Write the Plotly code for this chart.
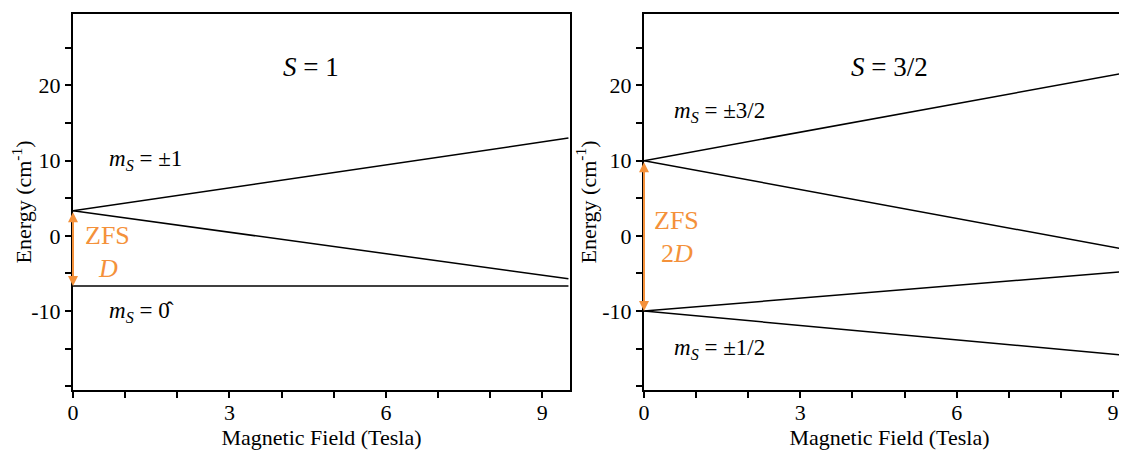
import plotly.graph_objects as go
from plotly.subplots import make_subplots

# ---- data ----
field = [0, 9.5]                      # Tesla
# S = 1 panel
s1_ms_pm1_up = [3.33, 13.0]
s1_ms_pm1_dn = [3.33, -5.7]
s1_ms_0 = [-6.67, -6.67]
# S = 3/2 panel
s32_a = [10.0, 22.0]
s32_b = [10.0, -2.15]
s32_c = [-10.0, -4.6]
s32_d = [-10.0, -16.05]

x_tickvals = [0, 3, 6, 9]
y_tickvals = [-10, 0, 10, 20]
y_ticktext = ["-10", "0", "10", "20"]

ORANGE = "#F4913A"
FONT = "Liberation Serif, DejaVu Serif, serif"

fig = make_subplots(rows=1, cols=2, horizontal_spacing=0.07)

for y in [s1_ms_pm1_up, s1_ms_pm1_dn, s1_ms_0]:
    fig.add_trace(go.Scatter(x=field, y=y, mode="lines",
                             line=dict(color="black", width=1.5),
                             showlegend=False, hoverinfo="skip"), row=1, col=1)
for y in [s32_a, s32_b, s32_c, s32_d]:
    fig.add_trace(go.Scatter(x=field, y=y, mode="lines",
                             line=dict(color="black", width=1.5),
                             showlegend=False, hoverinfo="skip"), row=1, col=2)

axis_common = dict(showline=True, linecolor="black", linewidth=2,
                   ticks="outside", ticklen=6, tickwidth=1.5, tickcolor="black",
                   showgrid=False, zeroline=False,
                   tickfont=dict(family=FONT, size=22, color="black"))

# page body has an 8px offset, compensate
L, T = 65, 6
PW = 1127 - L
xdom1 = [0, (562 - L) / PW]
xdom2 = [(636 - L) / PW, 1]

xminor = dict(dtick=1, ticks="outside", ticklen=6, tickwidth=1.5, tickcolor="black")
yminor = dict(dtick=5, ticks="outside", ticklen=6, tickwidth=1.5, tickcolor="black")
xtitle = dict(text="Magnetic Field (Tesla)", font=dict(family=FONT, size=22, color="black"), standoff=5)
ytitle1 = dict(text="Energy (cm<sup>-1</sup>)", font=dict(family=FONT, size=22, color="black"), standoff=6)
ytitle2 = dict(text="Energy (cm<sup>-1</sup>)", font=dict(family=FONT, size=22, color="black"), standoff=0)

fig.update_xaxes(**axis_common, range=[0, 9.53], tickvals=x_tickvals, minor=xminor,
                 title=xtitle, ticklabelstandoff=-4,
                 mirror=True, domain=xdom1, row=1, col=1)
fig.update_xaxes(**axis_common, range=[0, 9.42], tickvals=x_tickvals, minor=xminor,
                 title=xtitle, ticklabelstandoff=-4,
                 mirror=True, domain=xdom2, row=1, col=2)
fig.update_yaxes(**axis_common, range=[-20.5, 29.5], tickvals=y_tickvals, ticktext=y_ticktext,
                 minor=yminor, title=ytitle1, mirror=True, row=1, col=1)
fig.update_yaxes(**axis_common, range=[-20.5, 29.5], tickvals=y_tickvals, ticktext=y_ticktext,
                 minor=yminor, title=ytitle2, mirror=False, row=1, col=2)

def txt(xref, yref, x, y, text, size, color="black", xanchor="center"):
    fig.add_annotation(xref=xref, yref=yref, x=x, y=y, text=text, showarrow=False,
                       xanchor=xanchor, yanchor="middle",
                       font=dict(family=FONT, size=size, color=color))

txt("x", "y", 4.57, 22.4, "<i>S</i> = 1", 27)
txt("x", "y", 0.65, 10.1, "<i>m<sub>S</sub></i> = ±1", 23, xanchor="left")
txt("x", "y", 0.65, -10.1, "<i>m<sub>S</sub></i> = 0\u0302", 23, xanchor="left")
txt("x", "y", 0.67, 0.0, "ZFS", 26, ORANGE)
txt("x", "y", 0.67, -4.4, "<i>D</i>", 26, ORANGE)

txt("x2", "y2", 4.71, 22.4, "<i>S</i> = 3/2", 27)
txt("x2", "y2", 0.54, 16.5, "<i>m<sub>S</sub></i> = ±3/2", 23, xanchor="left")
txt("x2", "y2", 0.54, -15.1, "<i>m<sub>S</sub></i> = ±1/2", 23, xanchor="left")
txt("x2", "y2", 0.63, 2.0, "ZFS", 26, ORANGE)
txt("x2", "y2", 0.63, -2.4, "2<i>D</i>", 26, ORANGE)

# double-headed ZFS arrows
for xr, yr, top, bot in [("x", "y", s1_ms_pm1_up[0], s1_ms_0[0]), ("x2", "y2", s32_a[0], s32_c[0])]:
    fig.add_annotation(xref=xr, yref=yr, axref=xr, ayref=yr, x=0, y=bot, ax=0, ay=top,
                       text="", showarrow=True, arrowhead=2, startarrowhead=2,
                       arrowside="end+start", arrowsize=1, arrowwidth=2,
                       arrowcolor=ORANGE, standoff=0, startstandoff=0)

fig.update_layout(width=1127, height=453, paper_bgcolor="white", plot_bgcolor="white",
                  font=dict(family=FONT, color="black"),
                  margin=dict(l=L, r=0, t=T, b=71), showlegend=False)

fig.write_html("out.html")
